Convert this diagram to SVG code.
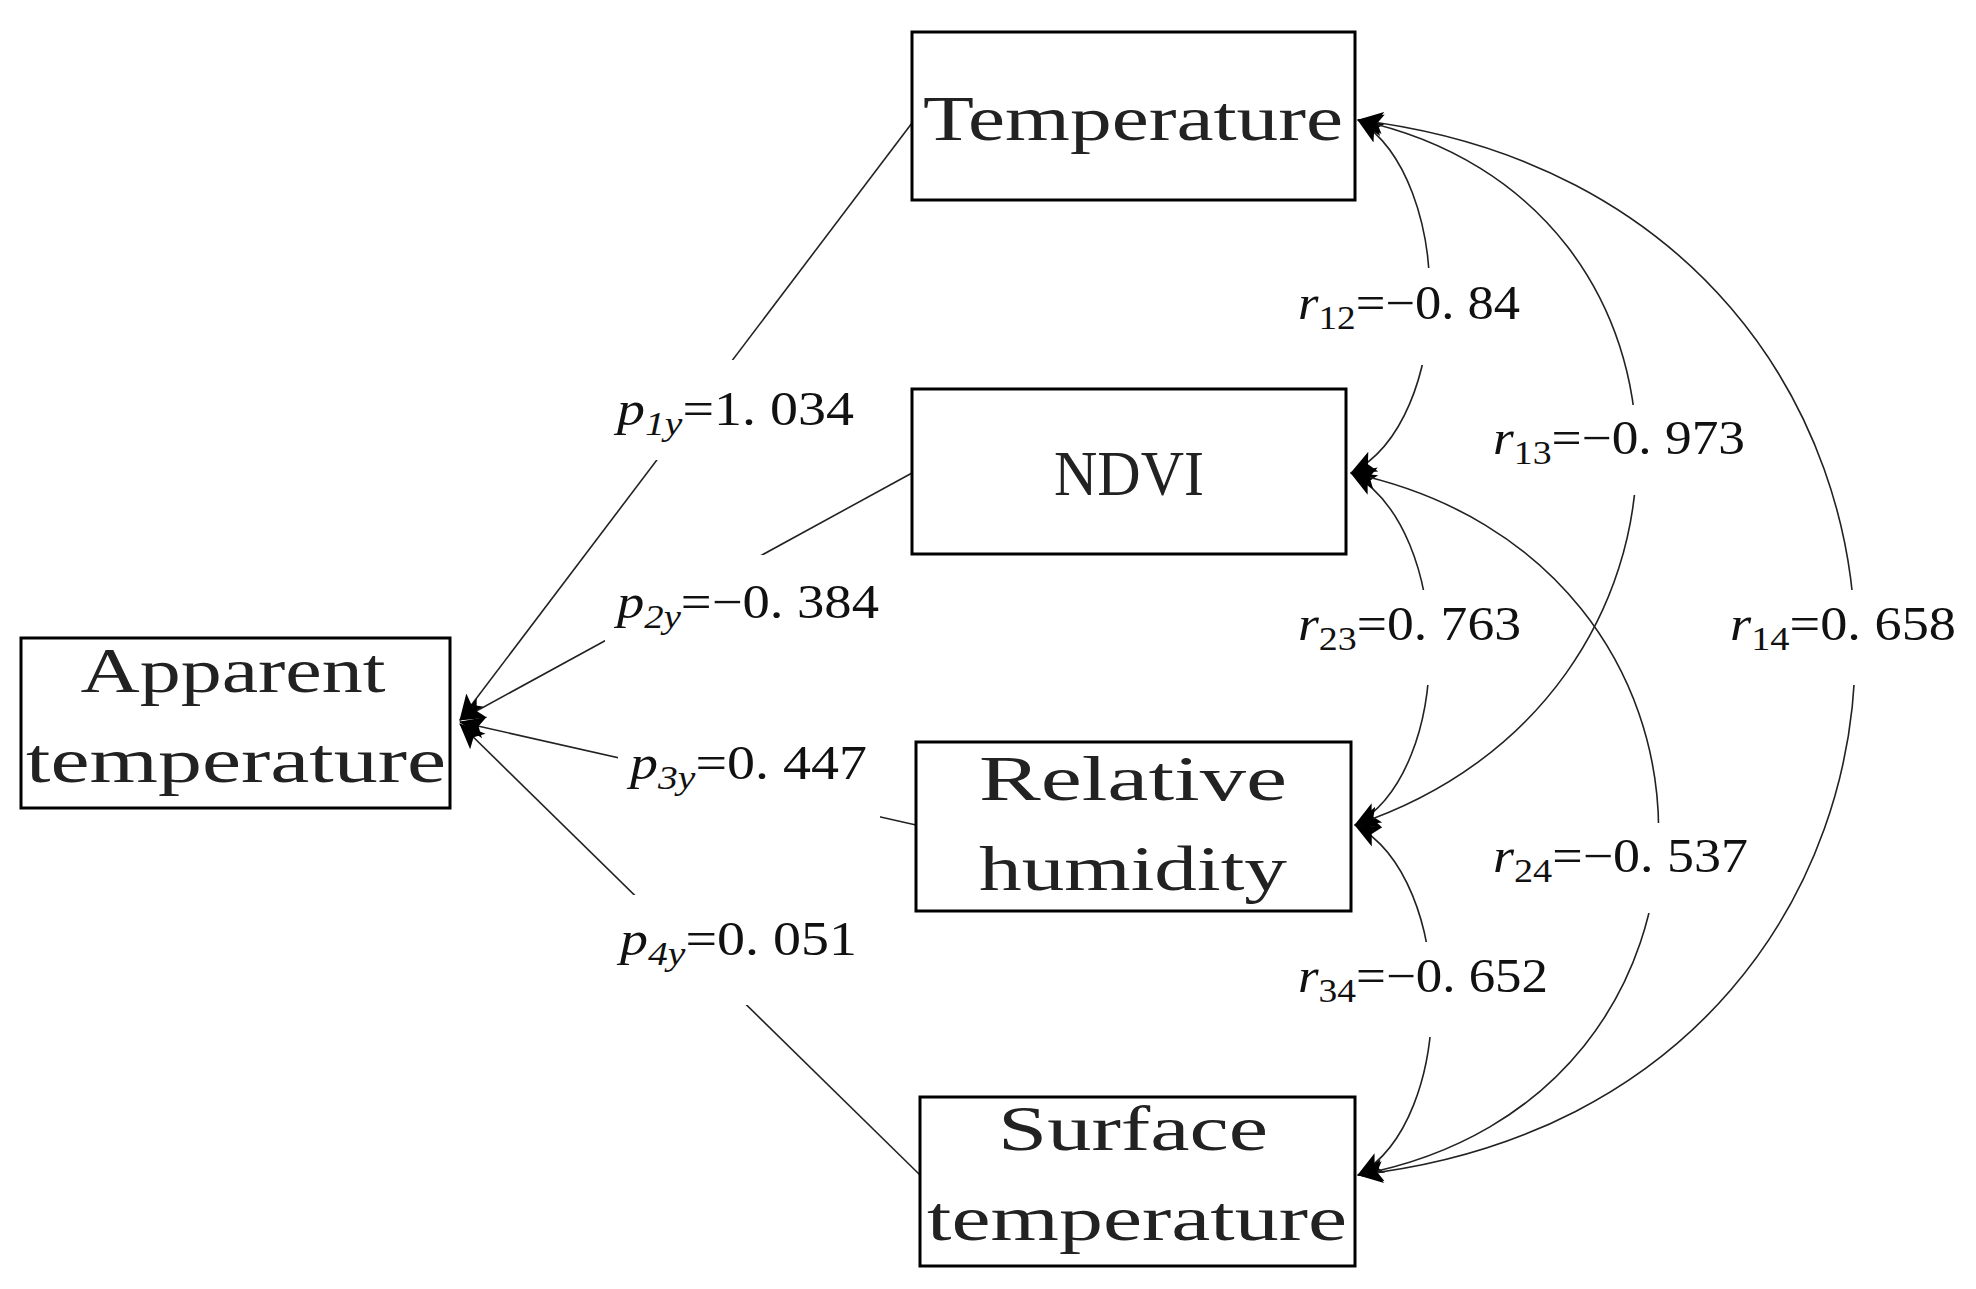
<svg xmlns="http://www.w3.org/2000/svg" width="1976" height="1289" viewBox="0 0 1976 1289">
<style>
.box{fill:#fff;stroke:#000;stroke-width:3}
.nt{font-family:"Liberation Serif",serif;font-size:64px;fill:#222}
.ln{fill:none;stroke:#222;stroke-width:1.6}
.bg{fill:#fff}
.lb{font-family:"Liberation Serif",serif;font-size:48px;fill:#111}
.it{font-style:italic}
.sb{font-size:34px}
</style>
<defs>
<marker id="ah" viewBox="0 0 26 26" refX="25" refY="13" markerWidth="26" markerHeight="26" markerUnits="userSpaceOnUse" orient="auto-start-reverse">
<path d="M0,2 L26,13 L0,24 L6,13 Z" fill="#000"/>
</marker>
</defs>
<g id="connectors">
<path class="ln" d="M912,123 L460,720" marker-end="url(#ah)"/>
<path class="ln" d="M912,473 L460,720" marker-end="url(#ah)"/>
<path class="ln" d="M916,825 L460,722" marker-end="url(#ah)"/>
<path class="ln" d="M920,1175 L460,724" marker-end="url(#ah)"/>
<path class="ln" d="M1358,120 C1455,180 1455,420 1351,473" marker-start="url(#ah)" marker-end="url(#ah)"/>
<path class="ln" d="M1351,473 C1455,530 1455,770 1355,825" marker-start="url(#ah)" marker-end="url(#ah)"/>
<path class="ln" d="M1355,825 C1457,880 1457,1120 1358,1175" marker-start="url(#ah)" marker-end="url(#ah)"/>
<path class="ln" d="M1358,120 C1730,200 1730,700 1355,825" marker-start="url(#ah)" marker-end="url(#ah)"/>
<path class="ln" d="M1351,473 C1760,560 1760,1100 1358,1175" marker-start="url(#ah)" marker-end="url(#ah)"/>
<path class="ln" d="M1358,120 C2021,200 2021,1100 1358,1175" marker-start="url(#ah)" marker-end="url(#ah)"/>
</g>
<g id="labels">
<rect class="bg" x="605" y="360" width="262" height="100"/>
<rect class="bg" x="605" y="555" width="285" height="95"/>
<rect class="bg" x="618" y="735" width="262" height="85"/>
<rect class="bg" x="608" y="895" width="262" height="110"/>
<rect class="bg" x="1286" y="268" width="245" height="97"/>
<rect class="bg" x="1481" y="405" width="275" height="90"/>
<rect class="bg" x="1286" y="590" width="245" height="95"/>
<rect class="bg" x="1718" y="590" width="250" height="95"/>
<rect class="bg" x="1481" y="823" width="275" height="90"/>
<rect class="bg" x="1286" y="942" width="270" height="95"/>
<text class="lb" x="617" y="425" textLength="237" lengthAdjust="spacingAndGlyphs"><tspan class="it">p</tspan><tspan class="it sb" dy="10">1y</tspan><tspan dy="-10">=1. 034</tspan></text>
<text class="lb" x="617" y="618" textLength="262" lengthAdjust="spacingAndGlyphs"><tspan class="it">p</tspan><tspan class="it sb" dy="10">2y</tspan><tspan dy="-10">=−0. 384</tspan></text>
<text class="lb" x="630" y="779" textLength="237" lengthAdjust="spacingAndGlyphs"><tspan class="it">p</tspan><tspan class="it sb" dy="10">3y</tspan><tspan dy="-10">=0. 447</tspan></text>
<text class="lb" x="620" y="955" textLength="237" lengthAdjust="spacingAndGlyphs"><tspan class="it">p</tspan><tspan class="it sb" dy="10">4y</tspan><tspan dy="-10">=0. 051</tspan></text>
<text class="lb" x="1298" y="319" textLength="222" lengthAdjust="spacingAndGlyphs"><tspan class="it">r</tspan><tspan class="sb" dy="10">12</tspan><tspan dy="-10">=−0. 84</tspan></text>
<text class="lb" x="1493" y="454" textLength="252" lengthAdjust="spacingAndGlyphs"><tspan class="it">r</tspan><tspan class="sb" dy="10">13</tspan><tspan dy="-10">=−0. 973</tspan></text>
<text class="lb" x="1298" y="640" textLength="223" lengthAdjust="spacingAndGlyphs"><tspan class="it">r</tspan><tspan class="sb" dy="10">23</tspan><tspan dy="-10">=0. 763</tspan></text>
<text class="lb" x="1730" y="640" textLength="226" lengthAdjust="spacingAndGlyphs"><tspan class="it">r</tspan><tspan class="sb" dy="10">14</tspan><tspan dy="-10">=0. 658</tspan></text>
<text class="lb" x="1493" y="872" textLength="255" lengthAdjust="spacingAndGlyphs"><tspan class="it">r</tspan><tspan class="sb" dy="10">24</tspan><tspan dy="-10">=−0. 537</tspan></text>
<text class="lb" x="1298" y="992" textLength="250" lengthAdjust="spacingAndGlyphs"><tspan class="it">r</tspan><tspan class="sb" dy="10">34</tspan><tspan dy="-10">=−0. 652</tspan></text>
</g>
<g id="temperature"><rect class="box" x="912" y="32" width="443" height="168"/><text class="nt" x="1133" y="140" text-anchor="middle" textLength="420" lengthAdjust="spacingAndGlyphs">Temperature</text></g>
<g id="ndvi"><rect class="box" x="912" y="389" width="434" height="165"/><text class="nt" x="1129" y="495" text-anchor="middle" textLength="150" lengthAdjust="spacingAndGlyphs">NDVI</text></g>
<g id="humidity"><rect class="box" x="916" y="742" width="435" height="169"/><text class="nt" x="1133" y="800" text-anchor="middle" textLength="308" lengthAdjust="spacingAndGlyphs">Relative</text><text class="nt" x="1133" y="890" text-anchor="middle" textLength="308" lengthAdjust="spacingAndGlyphs">humidity</text></g>
<g id="surface"><rect class="box" x="920" y="1097" width="435" height="169"/><text class="nt" x="1133" y="1150" text-anchor="middle" textLength="270" lengthAdjust="spacingAndGlyphs">Surface</text><text class="nt" x="1137" y="1240" text-anchor="middle" textLength="420" lengthAdjust="spacingAndGlyphs">temperature</text></g>
<g id="apparent"><rect class="box" x="21" y="638" width="429" height="170"/><text class="nt" x="233" y="692" text-anchor="middle" textLength="305" lengthAdjust="spacingAndGlyphs">Apparent</text><text class="nt" x="236" y="782" text-anchor="middle" textLength="420" lengthAdjust="spacingAndGlyphs">temperature</text></g>
</svg>
